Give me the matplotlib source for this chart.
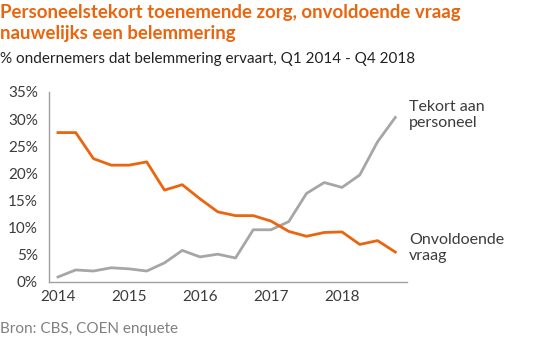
import numpy as np
import matplotlib.pyplot as plt

quarters = np.arange(20)
years = [2014, 2015, 2016, 2017, 2018]

onvoldoende_vraag = [27.5, 27.5, 22.7, 21.5, 21.5, 22.1, 16.9, 17.9, 15.3, 12.9,
                     12.2, 12.2, 11.2, 9.3, 8.4, 9.1, 9.2, 6.9, 7.6, 5.5]
tekort_personeel = [0.9, 2.2, 2.0, 2.6, 2.4, 2.0, 3.5, 5.8, 4.6, 5.1,
                    4.4, 9.6, 9.6, 11.1, 16.3, 18.3, 17.4, 19.7, 25.8, 30.3]

orange = "#EA650D"
grey = "#A6A6A6"
text = "#3c3c3c"
font = "Lato"

x = 2014 + quarters * 0.25

fig = plt.figure(figsize=(5.5, 3.48), dpi=100)
ax = fig.add_axes([0.089, 0.19, 0.651, 0.546])

ax.plot(x, tekort_personeel, color=grey, lw=2)
ax.plot(x, onvoldoende_vraag, color=orange, lw=2)

ax.set_xlim(2013.873, 2018.915)
ax.set_ylim(0, 35)
ax.set_xticks(years)
ax.set_xticklabels([str(y) for y in years])
ax.set_yticks(range(0, 36, 5))
ax.set_yticklabels([f"{v}%" for v in range(0, 36, 5)])
ax.tick_params(length=0, labelsize=11, colors=text, pad=6)
for lab in ax.get_xticklabels() + ax.get_yticklabels():
    lab.set_fontfamily(font)
ax.tick_params(axis="y", pad=8)
for s in ["top", "right"]:
    ax.spines[s].set_visible(False)
for s in ["left", "bottom"]:
    ax.spines[s].set_color("#a0a0a0")
    ax.spines[s].set_linewidth(1)

fig.text(409 / 550, 1 - 100 / 348, "Tekort aan\npersoneel", fontsize=11.5,
         color=text, family=font, va="top", ha="left", linespacing=1.2)
fig.text(409 / 550, 1 - 233 / 348, "Onvoldoende\nvraag", fontsize=11.5,
         color=text, family=font, va="top", ha="left", linespacing=1.2)

fig.text(0.0, 1 - 4 / 348, "Personeelstekort toenemende zorg, onvoldoende vraag\nnauwelijks een belemmering",
         fontsize=13.4, fontweight="bold", color=orange, family=font, va="top",
         ha="left", linespacing=1.3)
fig.text(0.0, 1 - 52 / 348, "% ondernemers dat belemmering ervaart, Q1 2014 - Q4 2018",
         fontsize=11, color="#222222", family=font, va="top", ha="left")
fig.text(0.0, 1 - 322 / 348, "Bron: CBS, COEN enquete", fontsize=11,
         color="#808080", family=font, va="top", ha="left")

fig.savefig("out.png", dpi=100)
